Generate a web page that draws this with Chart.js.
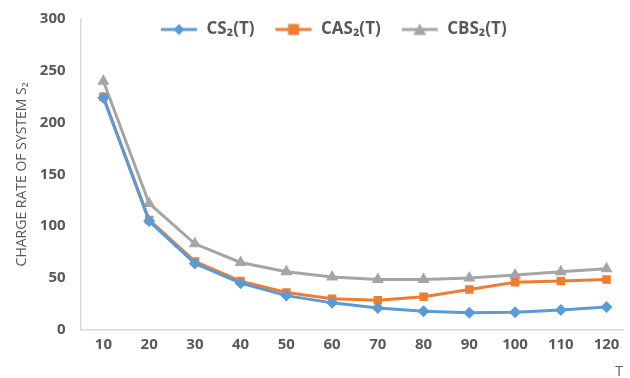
<!DOCTYPE html>
<html>
<head>
<meta charset="utf-8">
<script src="https://cdn.jsdelivr.net/npm/chart.js@4.4.1/dist/chart.umd.min.js"></script>
<style>
  html, body { margin: 0; padding: 0; background: #fff; }
  #wrap { width: 630px; height: 378px; }
</style>
</head>
<body>
<div id="wrap"><canvas id="chart"></canvas></div>
<script>
// values
const T = [10, 20, 30, 40, 50, 60, 70, 80, 90, 100, 110, 120];
const cs2 = [224, 105, 64, 45, 33, 26, 21, 18, 16.5, 17, 19, 22];
const cas2 = [225, 106, 66, 47, 36, 30, 28.5, 32, 39, 46, 47, 48.5];
const cbs2 = [240, 122, 83, 65, 56, 51, 48.5, 48.5, 50, 53, 56, 59];
const yTicks = [0, 50, 100, 150, 200, 250, 300];

const textColor = '#595959';
const fam = '"Open Sans", "Liberation Sans", sans-serif';

// little legend swatch: line with the marker on it
function swatch(color, style) {
    const c = document.createElement('canvas');
    c.width = 38; c.height = 14;
    const g = c.getContext('2d');
    g.strokeStyle = color; g.fillStyle = color; g.lineWidth = 3;
    g.beginPath(); g.moveTo(1, 7); g.lineTo(37, 7); g.stroke();
    g.beginPath();
    if (style === 'diamond') {
        g.moveTo(19, 1.5); g.lineTo(24.5, 7); g.lineTo(19, 12.5); g.lineTo(13.5, 7);
    } else if (style === 'square') {
        g.rect(13.5, 1.5, 11, 11);
    } else {
        g.moveTo(19, 1); g.lineTo(25.5, 12.5); g.lineTo(12.5, 12.5);
    }
    g.closePath(); g.fill();
    return c;
}

const pts = arr => arr.map((v, i) => ({ x: T[i], y: v }));

const series = [
    { label: 'CS₂(T)', data: cs2, color: '#5B9BD5', style: 'rectRot', radius: 6, sw: 'diamond' },
    { label: 'CAS₂(T)', data: cas2, color: '#ED7D31', style: 'rect', radius: 6, sw: 'square' },
    { label: 'CBS₂(T)', data: cbs2, color: '#A5A5A5', style: 'triangle', radius: 7, sw: 'triangle' }
];

// legend sits over the top of the plot like the Excel one, laid out in a row
const rowLegend = {
    id: 'rowLegend',
    beforeLayout(chart) {
        if (chart.legend) chart.legend.isHorizontal = () => true;
    },
    afterLayout(chart) {
        const lg = chart.legend;
        if (!lg) return;
        const h = lg.bottom - lg.top;
        lg.left = 140;
        lg.right = 140 + lg.width;
        lg.top = 1;
        lg.bottom = 1 + h;
    }
};

new Chart(document.getElementById('chart').getContext('2d'), {
    type: 'line',
    plugins: [rowLegend],
    data: {
        datasets: series.map(s => ({
            label: s.label,
            data: pts(s.data),
            borderColor: s.color,
            backgroundColor: s.color,
            borderWidth: 3,
            pointStyle: s.style,
            pointRadius: s.radius,
            pointHoverRadius: s.radius,
            pointBorderWidth: 0,
            tension: 0,
            legendImage: swatch(s.color, s.sw)
        }))
    },
    options: {
        responsive: true,
        maintainAspectRatio: false,
        animation: false,
        layout: { padding: { top: 19, right: 0, bottom: 0, left: 14 } },
        plugins: {
            tooltip: { enabled: false },
            legend: {
                position: 'chartArea',
                align: 'start',
                labels: {
                    usePointStyle: true,
                    pointStyleWidth: 38,
                    padding: 20,
                    color: textColor,
                    font: { family: fam, size: 17, weight: 'bold' },
                    generateLabels: function (chart) {
                        return chart.data.datasets.map((ds, i) => ({
                            text: ds.label,
                            pointStyle: ds.legendImage,
                            fillStyle: ds.borderColor,
                            strokeStyle: ds.borderColor,
                            lineWidth: 0,
                            fontColor: textColor,
                            hidden: false,
                            datasetIndex: i
                        }));
                    }
                }
            }
        },
        scales: {
            x: {
                type: 'linear',
                min: 5,
                max: 123.6,
                afterBuildTicks: axis => { axis.ticks = T.map(v => ({ value: v })); },
                grid: { display: false },
                border: { display: true, color: '#d9d9d9', width: 1.5 },
                ticks: {
                    color: textColor,
                    padding: -2,
                    maxRotation: 0,
                    font: { family: fam, size: 15, weight: 'bold' }
                },
                title: {
                    display: true,
                    text: 'T',
                    align: 'end',
                    color: textColor,
                    padding: { top: 15, bottom: 0 },
                    font: { family: fam, size: 14, lineHeight: 0.8 }
                }
            },
            y: {
                min: 0,
                max: 300,
                afterBuildTicks: axis => { axis.ticks = yTicks.map(v => ({ value: v })); },
                grid: { display: false },
                border: { display: true, color: '#d9d9d9', width: 1.5 },
                ticks: {
                    color: textColor,
                    padding: 7,
                    font: { family: fam, size: 15, weight: 'bold' }
                },
                title: {
                    display: true,
                    text: 'CHARGE RATE OF SYSTEM S₂',
                    color: textColor,
                    padding: { top: 0, bottom: 2 },
                    font: { family: fam, size: 14 }
                }
            }
        }
    }
});
</script>
</body>
</html>
